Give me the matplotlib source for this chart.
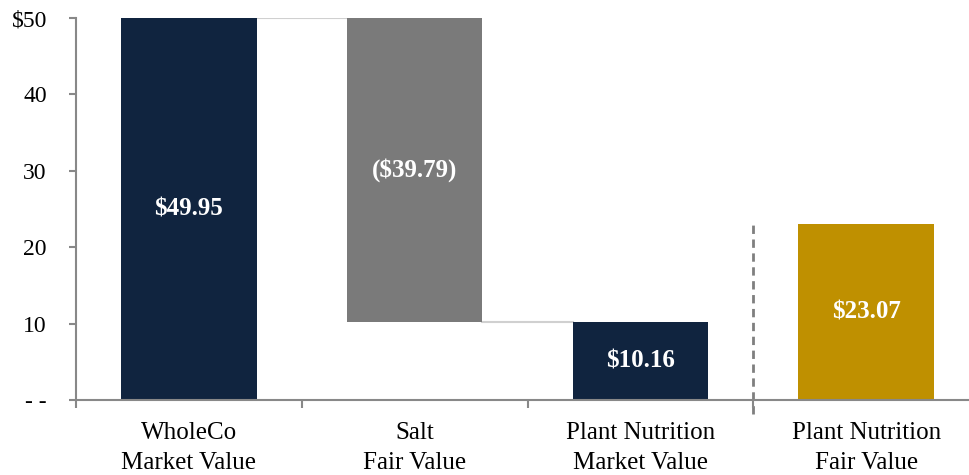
import matplotlib.pyplot as plt

categories = ["WholeCo\nMarket Value", "Salt\nFair Value",
              "Plant Nutrition\nMarket Value", "Plant Nutrition\nFair Value"]
bottoms = [0.0, 10.16, 0.0, 0.0]
heights = [49.95, 39.79, 10.16, 23.07]
labels = ["$49.95", "($39.79)", "$10.16", "$23.07"]
colors = ["#10243f", "#7a7a7a", "#10243f", "#bf9000"]
yticks = [0, 10, 20, 30, 40, 50]
ytick_labels = ["- -", "10", "20", "30", "40", "$50"]

plt.rcParams['font.family'] = ['Liberation Serif', 'DejaVu Serif']

fig = plt.figure(figsize=(9.7, 4.75), dpi=100)
ax = fig.add_axes([76 / 970, 75 / 475, 1 - 76 / 970, 382 / 475])

x = list(range(len(categories)))
width = 0.6
ax.bar(x, heights, bottom=bottoms, width=width, color=colors, zorder=2)

# connectors between the steps of the bridge
ax.plot([0 + width / 2, 1 - width / 2], [heights[0], heights[0]],
        color="#d0d0d0", lw=1.5, zorder=1)
ax.plot([1 + width / 2, 2 - width / 2], [bottoms[1], bottoms[1]],
        color="#d0d0d0", lw=1.5, zorder=1)

for i in x:
    ax.text(i, bottoms[i] + heights[i] / 2, labels[i], ha="center", va="center",
            color="white", fontsize=18, fontweight="bold", zorder=3)

# dashed divider before the fair value bar
ax.plot([2.5, 2.5], [-1.8, 23.3], color="#7f7f7f", lw=2,
        ls=(0, (3, 2)), clip_on=False, zorder=1)

ax.set_xlim(-0.5, 3.46)
ax.set_ylim(0, 50)
ax.set_yticks(yticks)
ax.set_yticklabels(ytick_labels, fontsize=17)
ax.set_xticks([-0.5, 0.5, 1.5, 2.5], minor=False)
ax.set_xticklabels([])
ax.set_xticks(x, minor=True)
ax.set_xticklabels(categories, minor=True, fontsize=18, linespacing=1.45)
ax.tick_params(axis="x", which="minor", length=0, pad=16)
ax.tick_params(axis="x", which="major", length=6, width=1.5, color="#888888")
ax.tick_params(axis="y", length=5, width=1.5, color="#888888", pad=16)

for side in ["top", "right"]:
    ax.spines[side].set_visible(False)
for side in ["left", "bottom"]:
    ax.spines[side].set_color("#888888")
    ax.spines[side].set_linewidth(1.5)

fig.savefig("out.png", dpi=100)
